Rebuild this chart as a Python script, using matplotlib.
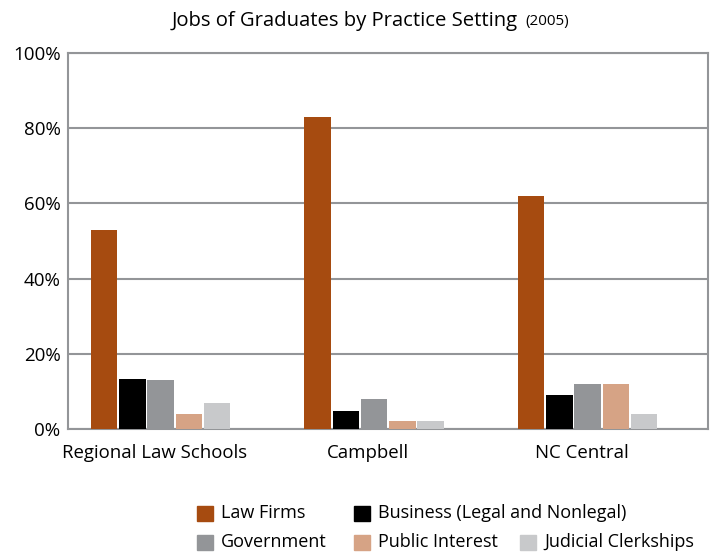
import matplotlib
matplotlib.use("Agg")
import matplotlib.pyplot as plt
from matplotlib.patches import Rectangle
import numpy as np

plt.rcParams['font.family'] = ['Open Sans', 'DejaVu Sans']

categories = ["Regional Law Schools", "Campbell", "NC Central"]
series_names = ["Law Firms", "Business (Legal and Nonlegal)", "Government",
                "Public Interest", "Judicial Clerkships"]
law_firms = [53, 83, 62]
business = [13.3, 4.8, 9]
government = [13, 8, 12]
public_interest = [4, 2, 12]
judicial_clerkships = [7, 2, 4]
colors = ["#A64B10", "#000000", "#939598", "#D6A385", "#C8C9CB"]
yticks = [0, 20, 40, 60, 80, 100]

series = [law_firms, business, government, public_interest, judicial_clerkships]

W, H = 712, 554
fig = plt.figure(figsize=(W / 100, H / 100), dpi=100)
ax = fig.add_axes([67.5 / W, (H - 429) / H, (708 - 67.5) / W, (429 - 53) / H])

x = np.arange(len(categories))
step = 0.1325
width = 0.124
for k, (vals, c) in enumerate(zip(series, colors)):
    ax.bar(x + (k - 2) * step, vals, width=width, color=c, zorder=3)

ax.set_xlim(-0.436, 2.564)
ax.set_ylim(0, 100)
ax.set_yticks(yticks)
ax.set_yticklabels([f"{v}%" for v in yticks], fontsize=13.5)
ax.set_xticks(x - 0.028)
ax.set_xticklabels(categories, fontsize=13.4)
ax.tick_params(axis='both', length=0)
ax.tick_params(axis='y', pad=5)
ax.tick_params(axis='x', pad=11)
ax.grid(axis='y', color="#939598", linewidth=1.5, zorder=0)
for s in ax.spines.values():
    s.set_color("#939598")
    s.set_linewidth(1.5)

# title
fig.text(518 / W, 1 - 21 / H, "Jobs of Graduates by Practice Setting", fontsize=14.6,
         ha='right', va='center')
fig.text(525 / W, 1 - 22 / H, "(2005)", fontsize=11, ha='left', va='center')

# legend (manual layout)
legend_pos = [(197, 513), (354, 513), (197, 542), (354, 542), (520, 542)]
for i, (px, py) in enumerate(legend_pos):
    fig.patches.append(Rectangle((px / W, (H - py - 7.5) / H), 15.5 / W, 15 / H,
                                 transform=fig.transFigure, color=colors[i]))
    fig.text((px + 24) / W, (H - py) / H, series_names[i], fontsize=13,
             ha='left', va='center')

fig.savefig("out.png", dpi=100)
